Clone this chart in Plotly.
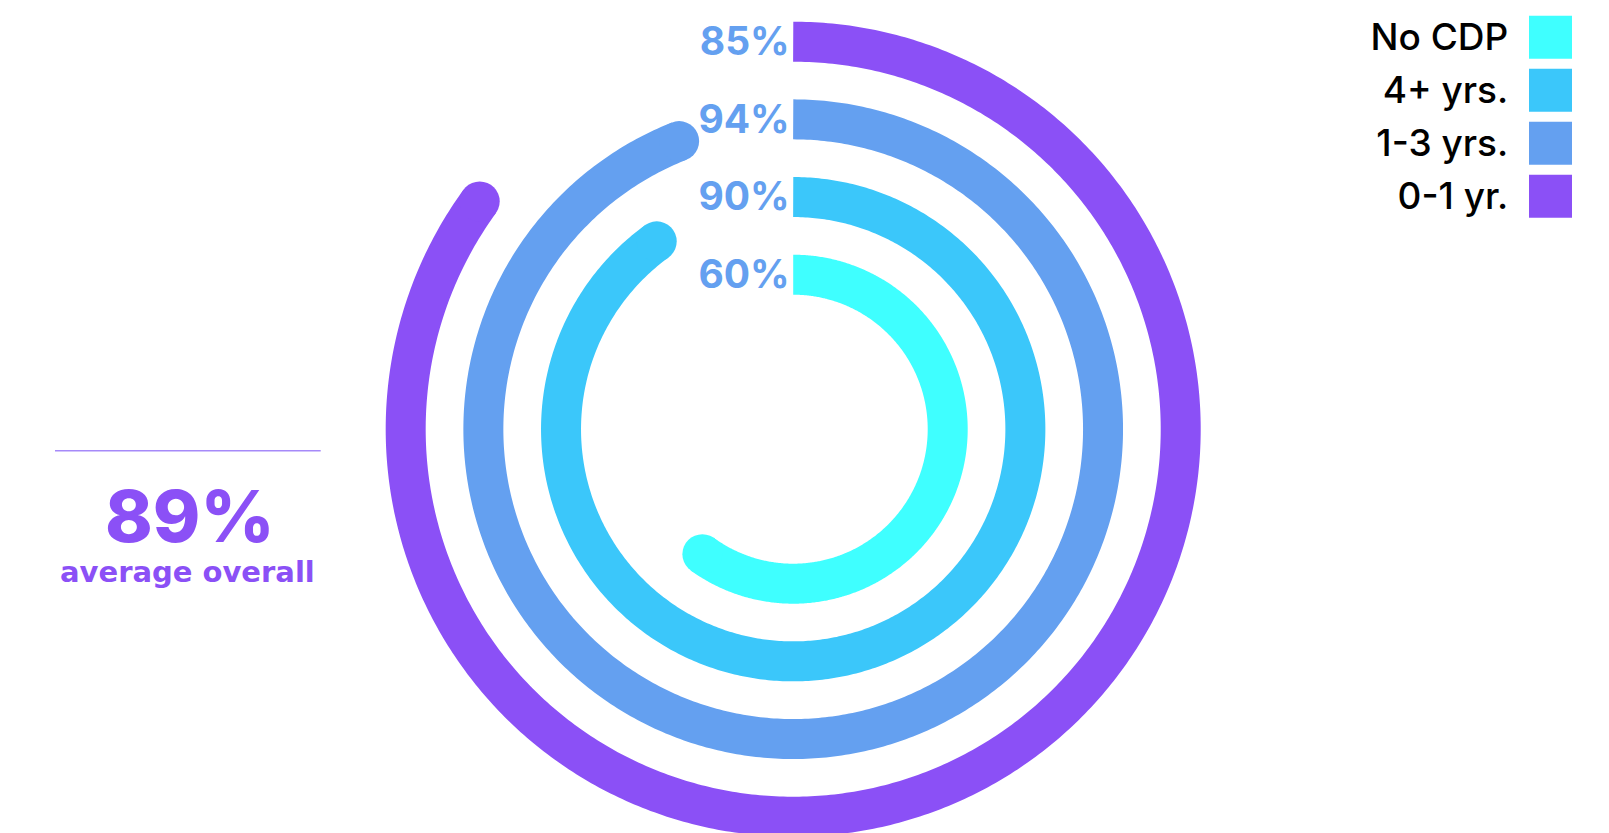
import numpy as np
import plotly.graph_objects as go

# ---------------- data ----------------
categories = ["No CDP", "4+ yrs.", "1-3 yrs.", "0-1 yr."]
values = [60, 90, 94, 85]
colors = ["#3FFFFF", "#3BC7FA", "#64A0F0", "#8B50F6"]
value_labels = [f"{v}%" for v in values]
average_value = 89
average_caption = "average overall"

# ---------------- layout constants ----------------
OX, OY = 8, 8              # page body margin
FW, FH = 1601, 850         # figure size (bottom runs past the window)


def px(x):
    return (x - OX) / FW


def py(y):
    return (FH - (y - OY)) / FH


cx, cy = 793.2, 429.2      # ring centre (window px)
D = 415.0                  # polar disc radius (px)
r0, step = 154.5, 77.67    # first ring radius, ring spacing (px)
ring_w = 40
label_nudge = 3.5 / step   # small downward nudge so digits centre on the ring
FONT = "Inter"

fig = go.Figure()

for i, (cat, v, col) in enumerate(zip(categories, values, colors)):
    theta = np.linspace(0, v * 3.6, 500)
    fig.add_trace(go.Scatterpolar(
        r=[i] * len(theta), theta=theta, mode="lines",
        line=dict(color=col, width=ring_w), cliponaxis=False,
        hoverinfo="skip", showlegend=False))
    fig.add_trace(go.Scatterpolar(
        r=[i], theta=[v * 3.6], mode="markers",
        marker=dict(color=col, size=ring_w, line=dict(width=0)),
        cliponaxis=False, hoverinfo="skip", showlegend=False))

# percentage labels at the start of each ring
fig.add_trace(go.Scatterpolar(
    r=[i - label_nudge for i in range(len(categories))],
    theta=[0] * len(categories),
    mode="markers+text", text=value_labels, textposition="middle left",
    marker=dict(size=4, opacity=0),
    textfont=dict(family=FONT, size=39, color="#64A0F0", weight=700),
    cliponaxis=False, hoverinfo="skip", showlegend=False))

# legend built on a small cartesian subplot
fig.add_trace(go.Scatter(
    x=[0] * len(categories), y=categories, mode="markers",
    marker=dict(symbol="square", size=43, color=colors, line=dict(width=0)),
    cliponaxis=False, hoverinfo="skip", showlegend=False,
    xaxis="x", yaxis="y"))
fig.add_trace(go.Scatter(
    x=[0] * len(categories), y=categories, mode="markers+text",
    text=categories, textposition="middle left",
    marker=dict(size=66, opacity=0),
    textfont=dict(family=FONT, size=37, color="#000000", weight=500),
    cliponaxis=False, hoverinfo="skip", showlegend=False,
    xaxis="x", yaxis="y2"))

fig.update_layout(
    width=FW, height=FH,
    margin=dict(l=0, r=0, t=0, b=0),
    paper_bgcolor="white", plot_bgcolor="rgba(0,0,0,0)",
    showlegend=False,
    polar=dict(
        domain=dict(x=[px(cx - D), px(cx + D)], y=[py(cy + D), py(cy - D)]),
        bgcolor="rgba(0,0,0,0)",
        radialaxis=dict(visible=False, range=[-r0 / step, (D - r0) / step]),
        angularaxis=dict(visible=False, rotation=90, direction="clockwise"),
    ),
    xaxis=dict(domain=[px(1500.5), px(1600.5)], range=[-1, 1], visible=False,
               fixedrange=True),
    yaxis=dict(domain=[py(222.8), py(10.8)], type="category",
               categoryorder="array", categoryarray=categories,
               range=[3.5, -0.5], visible=False, fixedrange=True),
    yaxis2=dict(domain=[py(225.8), py(13.8)], type="category",
                categoryorder="array", categoryarray=categories,
                range=[3.5, -0.5], visible=False, fixedrange=True,
                anchor="x"),
    shapes=[dict(type="line", xref="paper", yref="paper",
                 x0=px(55), x1=px(320.7), y0=py(450.7), y1=py(450.7),
                 line=dict(color="#A68AF9", width=1.5))],
    annotations=[
        dict(text=f"{average_value}%", x=px(189.5), y=py(515.5),
             xref="paper", yref="paper", xanchor="center", yanchor="middle",
             showarrow=False,
             font=dict(family=FONT, size=72, color="#8B50F6", weight=800)),
        dict(text=average_caption, x=px(187.3), y=py(572),
             xref="paper", yref="paper", xanchor="center", yanchor="middle",
             showarrow=False,
             font=dict(family="DejaVu Sans", size=29, color="#8B50F6",
                       weight=700)),
    ],
)

fig.write_html("out.html")
